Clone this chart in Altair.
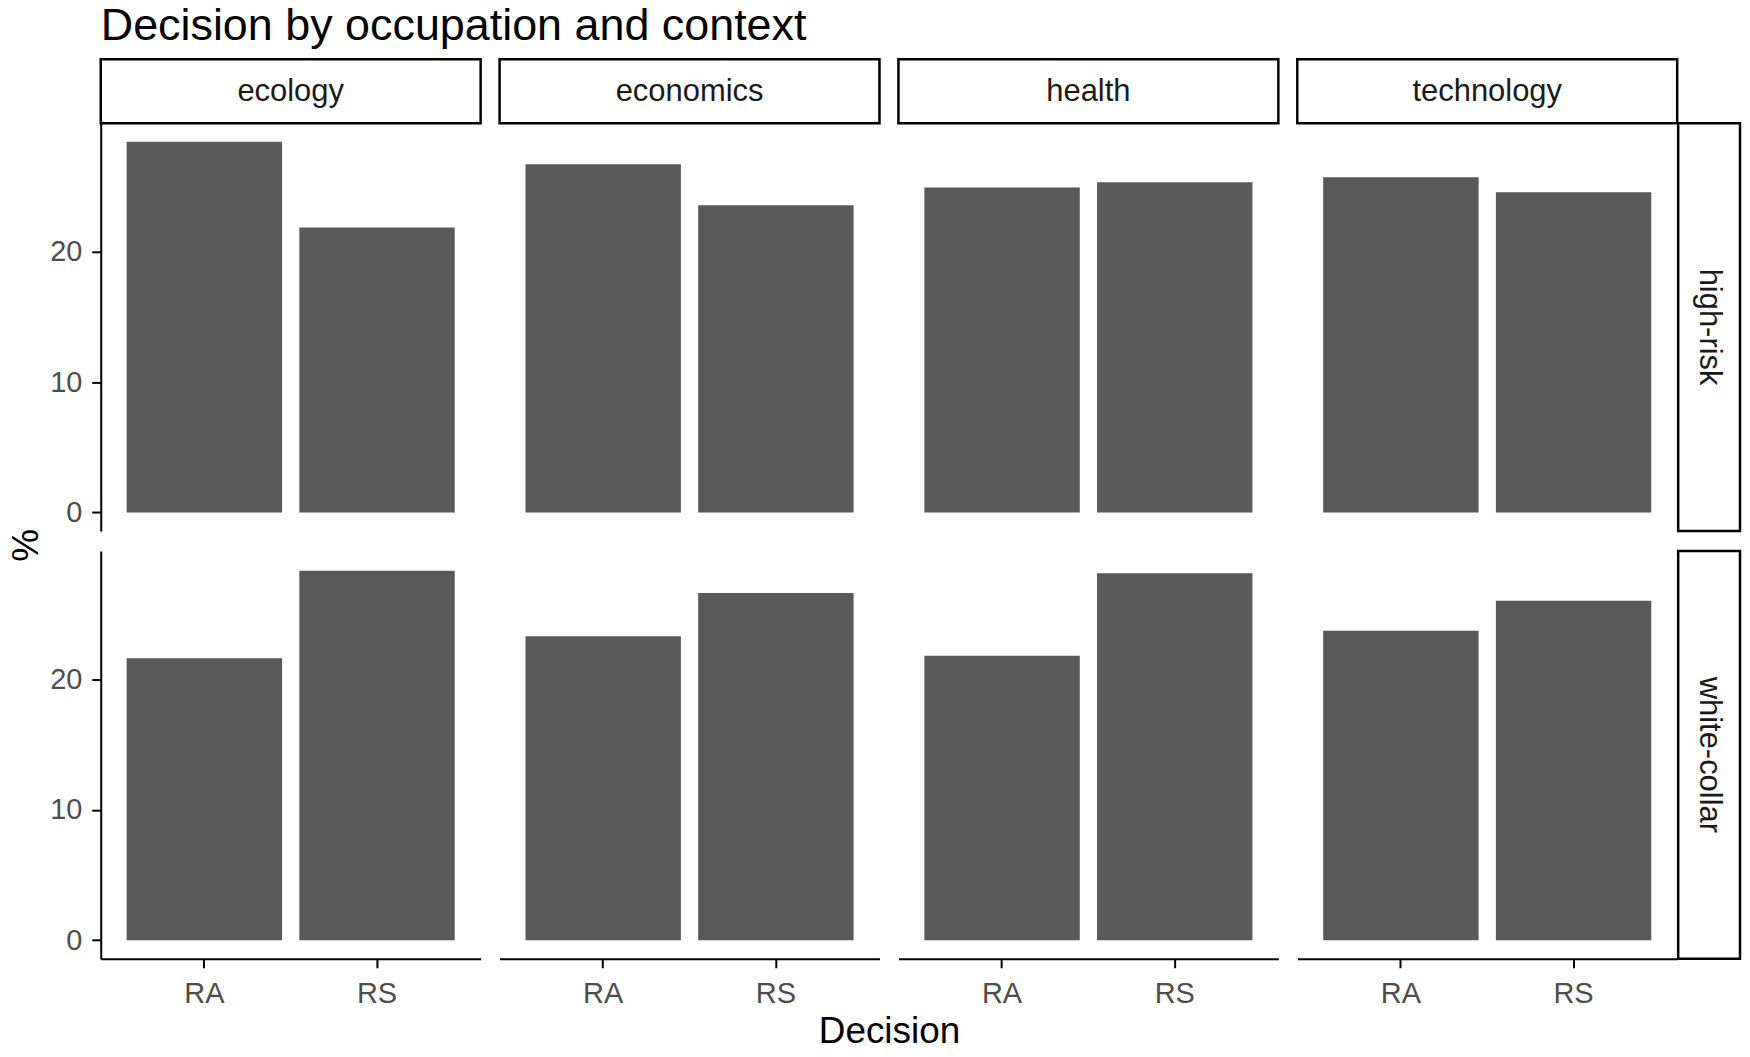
import altair as alt
import pandas as pd

contexts = ["ecology", "economics", "health", "technology"]
occupations = ["high-risk", "white-collar"]
decisions = ["RA", "RS"]
high_risk_RA = [28.45, 26.72, 24.93, 25.72]
high_risk_RS = [21.86, 23.58, 25.34, 24.57]
white_collar_RA = [21.64, 23.33, 21.82, 23.74]
white_collar_RS = [28.36, 26.64, 28.16, 26.04]
y_ticks = [0, 10, 20]
title_text = "Decision by occupation and context"
x_title = "Decision"
y_title = "%"

rows = []
for occ, ra, rs in [("high-risk", high_risk_RA, high_risk_RS),
                    ("white-collar", white_collar_RA, white_collar_RS)]:
    for i, ctx in enumerate(contexts):
        rows.append({"occupation": occ, "context": ctx, "Decision": "RA", "pct": ra[i]})
        rows.append({"occupation": occ, "context": ctx, "Decision": "RS", "pct": rs[i]})
df = pd.DataFrame(rows)

W, H = 381, 409
SP = 19
ROW_SP = 20
STRIP_H = 64
RSTRIP_W = 44
FONT = "Liberation Sans"
BAR = "#595959"
TICK_COL = "#4D4D4D"
TICK_FS = 29
STRIP_FS = 31

ymax = float(df["pct"].max())
ydom = [-0.05 * ymax, 1.05 * ymax]


def panel(occ, ctx, ci, ri):
    sub = df[(df["occupation"] == occ) & (df["context"] == ctx)]
    bottom = ri == len(occupations) - 1
    if bottom:
        xkw = dict(labelFontSize=TICK_FS, labelColor=TICK_COL, labelFont=FONT, labelAngle=0,
                   labelPadding=12, domainColor="black", domainWidth=2, tickColor="black",
                   tickWidth=2, tickSize=9, title=None)
        if ci == 0:
            xkw.update(title=x_title, titleX=(4 * W + 3 * SP) / 2, titleY=84,
                       titleFontSize=37, titleFont=FONT, titleFontWeight="normal",
                       titleColor="black", titleBaseline="alphabetic", titleAlign="center")
        xaxis = alt.Axis(**xkw)
    else:
        xaxis = None
    if ci == 0:
        ykw = dict(values=y_ticks, labelFontSize=TICK_FS, labelColor=TICK_COL, labelFont=FONT,
                   labelPadding=10, domainColor="black", domainWidth=2, tickColor="black",
                   tickWidth=2, tickSize=9, grid=False, title=None)
        if ri == 0:
            ykw.update(title=y_title, titleX=-74, titleY=H + 14, titleAngle=270,
                       titleFontSize=37, titleFont=FONT, titleFontWeight="normal",
                       titleColor="black", titleBaseline="middle", titleAlign="center")
        yaxis = alt.Axis(**ykw)
    else:
        yaxis = None
    return alt.Chart(sub).mark_bar(color=BAR).encode(
        x=alt.X("Decision:N", sort=decisions,
                scale=alt.Scale(domain=decisions, paddingInner=0.1, paddingOuter=0.15),
                axis=xaxis),
        y=alt.Y("pct:Q", scale=alt.Scale(domain=ydom, nice=False, zero=False), axis=yaxis),
        y2=alt.datum(0),
    ).properties(width=W, height=H)


def col_strip(label):
    base = alt.Chart(pd.DataFrame({"label": [label]}))
    rect = base.mark_rect(fill="white", stroke="black", strokeWidth=2.5).encode(
        x=alt.value(0), x2=alt.value(W), y=alt.value(0), y2=alt.value(STRIP_H))
    txt = base.mark_text(font=FONT, fontSize=STRIP_FS, color="#1A1A1A").encode(
        text="label:N", x=alt.value(W / 2), y=alt.value(STRIP_H / 2 + 1))
    return alt.layer(rect, txt).properties(width=W, height=STRIP_H - ROW_SP)


def row_strip(label):
    base = alt.Chart(pd.DataFrame({"label": [label]}))
    x0 = -(SP - 1)
    rect = base.mark_rect(fill="white", stroke="black", strokeWidth=2.5).encode(
        x=alt.value(x0), x2=alt.value(RSTRIP_W), y=alt.value(0), y2=alt.value(H))
    txt = base.mark_text(font=FONT, fontSize=STRIP_FS, color="#1A1A1A", angle=90).encode(
        text="label:N", x=alt.value((x0 + RSTRIP_W) / 2), y=alt.value(H / 2))
    return alt.layer(rect, txt).properties(width=RSTRIP_W, height=H)


def blank():
    return alt.Chart(pd.DataFrame({"label": [""]})).mark_text().encode(
        text="label:N").properties(width=RSTRIP_W, height=STRIP_H - ROW_SP)


cells = [col_strip(c) for c in contexts] + [blank()]
for ri, occ in enumerate(occupations):
    for ci, ctx in enumerate(contexts):
        cells.append(panel(occ, ctx, ci, ri))
    cells.append(row_strip(occ))

chart = alt.concat(*cells, columns=5, spacing={"row": ROW_SP, "column": SP},
                   bounds="flush", align="each").properties(
    title=alt.Title(title_text, anchor="start", frame="group", fontSize=45, font=FONT,
                    fontWeight="normal", color="black", offset=9),
    padding={"left": 0, "top": -6, "right": 0, "bottom": -5},
).configure_view(stroke=None)

chart.save("out.html", embed_options={"renderer": "svg", "actions": False})
